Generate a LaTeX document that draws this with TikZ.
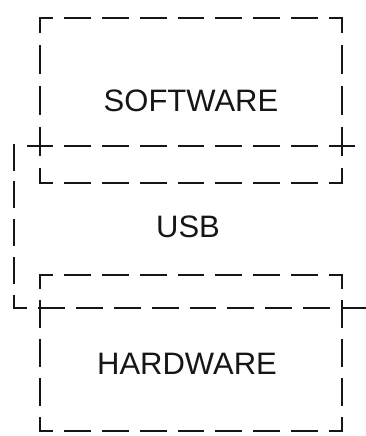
\documentclass[tikz,border=0pt]{standalone}
\usepackage{fontspec}
\setmainfont{Liberation Sans}
\usetikzlibrary{calc}
\definecolor{ink}{HTML}{161616}
\tikzset{
  dl/.style={line width=2.8pt, draw=ink, line cap=rect},
  lbl/.style={font=\fontsize{31}{31}\selectfont, text=ink, inner sep=0pt}
}
% dashed side: start, end, number of periods, first k, last k
\newcommand\dashside[5]{%
  \foreach \k in {#4,...,#5}{%
    \pgfmathsetmacro\da{max(0,(\k-0.32)/#3)}%
    \pgfmathsetmacro\db{min(1,(\k+0.32)/#3)}%
    \draw[dl] ($(#1)!\da!(#2)$) -- ($(#1)!\db!(#2)$);}}
\begin{document}
\begin{tikzpicture}[x=1pt,y=-1pt]
  \useasboundingbox (0,0) rectangle (366,436);
  \clip (0,0) rectangle (366,436);
  \fill[white] (0,0) rectangle (366,436);
  % SOFTWARE box
  \dashside{40,18}{342,18}{8}{0}{8}
  \dashside{40,183}{342,183}{8}{0}{8}
  \dashside{40,18}{40,183}{4}{0}{4}
  \dashside{342,18}{342,183}{4}{0}{4}
  % USB box (open on the right)
  \dashside{2.25,146}{379.75,146}{10}{1}{9}
  \dashside{14,119.5}{14,308}{5}{1}{5}
  \dashside{14,308}{392,308}{10}{0}{10}
  % HARDWARE box
  \dashside{40,275}{342,275}{8}{0}{8}
  \dashside{40,431}{342,431}{8}{0}{8}
  \dashside{40,275}{40,431}{4}{0}{4}
  \dashside{342,275}{342,431}{4}{0}{4}
  % labels
  \node[lbl] (sw) at (191,101) {SOFTWARE};
  \node[lbl] (usb) at (188,227) {USB};
  \node[lbl] (hw) at (187,364) {HARDWARE};
\end{tikzpicture}
\end{document}
